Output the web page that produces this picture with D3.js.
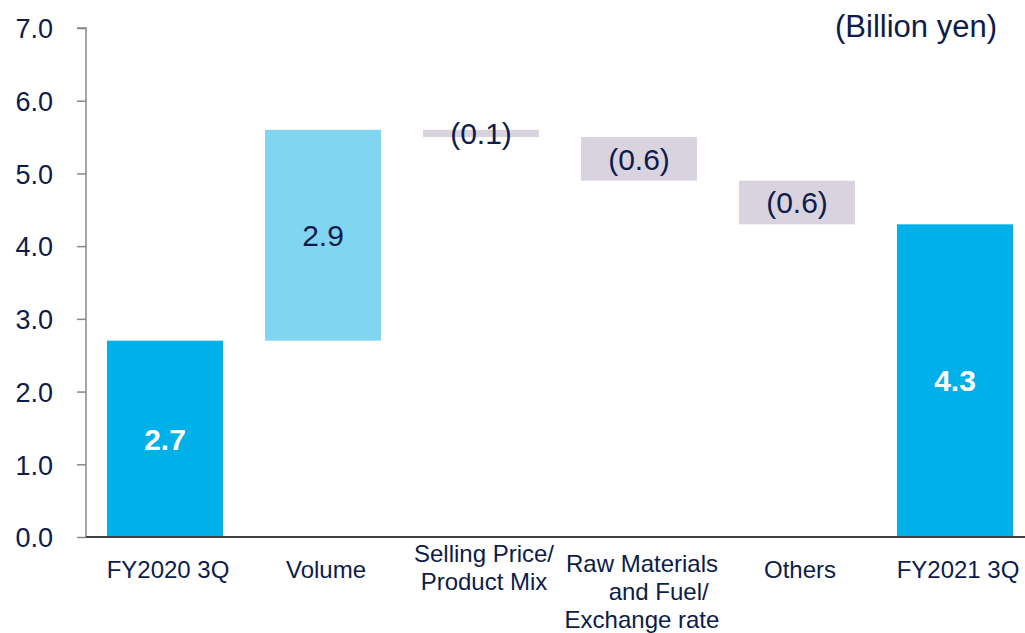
<!DOCTYPE html>
<html>
<head>
<meta charset="utf-8">
<script src="https://cdn.jsdelivr.net/npm/d3@7"></script>
<style>
  body { margin: 0; background: #fff; }
  text { font-family: "Liberation Sans", Arial, sans-serif; }
</style>
</head>
<body>
<div id="chart"></div>
<script>
// waterfall data (billion yen)
const categories = ["FY2020 3Q", "Volume", "Selling Price/Product Mix", "Raw Materials and Fuel/Exchange rate", "Others", "FY2021 3Q"];
const labelLines = [
  ["FY2020 3Q"],
  ["Volume"],
  ["Selling Price/", "Product Mix"],
  ["Raw Materials", "\u00a0\u00a0\u00a0\u00a0\u00a0and Fuel/", "Exchange rate"],
  ["Others"],
  ["FY2021 3Q"]
];
const kinds = ["total", "up", "down", "down", "down", "total"];
const values = [2.7, 2.9, -0.1, -0.6, -0.6, 4.3];
const valueLabels = ["2.7", "2.9", "(0.1)", "(0.6)", "(0.6)", "4.3"];
const yTicks = [0, 1, 2, 3, 4, 5, 6, 7];

const width = 1025, height = 633;
const margin = { top: 28, right: -9, bottom: 96, left: 86 };

const navy = "#0e1c4a";
const colors = { total: "#00b0e8", up: "#80d6f1", down: "#d9d3e0" };

// running base for each bar
let run = 0;
const bars = values.map((v, i) => {
  let y0, y1;
  if (kinds[i] === "total") {
    y0 = 0; y1 = v; run = v;
  } else {
    y0 = run; y1 = run + v; run = y1;
  }
  return { cat: categories[i], kind: kinds[i], lo: Math.min(y0, y1), hi: Math.max(y0, y1), label: valueLabels[i], lines: labelLines[i] };
});

const svg = d3.select("#chart").append("svg")
  .attr("width", width)
  .attr("height", height);

const x = d3.scaleBand()
  .domain(categories)
  .range([margin.left, width - margin.right])
  .paddingInner(0.266)
  .paddingOuter(0.133);

const y = d3.scaleLinear()
  .domain([0, 7])
  .range([height - margin.bottom, margin.top]);

// y axis
const yAxis = svg.append("g")
  .attr("transform", `translate(${margin.left},0)`)
  .call(d3.axisLeft(y).tickValues(yTicks).tickFormat(d3.format(".1f")).tickSize(9).tickPadding(24));
yAxis.select(".domain").attr("stroke", "#888").attr("stroke-width", 1.5).attr("d", `M-9,${y(7)}H0V${y(0)}`);
yAxis.selectAll(".tick line").attr("stroke", "#888").attr("stroke-width", 1.5);
yAxis.selectAll(".tick text")
  .attr("fill", navy)
  .style("font-size", "27px")
  .attr("dy", "0.36em");

// bars
svg.append("g")
  .selectAll("rect")
  .data(bars)
  .join("rect")
  .attr("x", d => x(d.cat))
  .attr("width", x.bandwidth())
  .attr("y", d => y(d.hi))
  .attr("height", d => y(d.lo) - y(d.hi))
  .attr("fill", d => colors[d.kind]);

// x axis line
svg.append("line")
  .attr("x1", margin.left)
  .attr("x2", width)
  .attr("y1", y(0))
  .attr("y2", y(0))
  .attr("stroke", "#404040")
  .attr("stroke-width", 2);

// value labels
svg.append("g")
  .selectAll("text")
  .data(bars)
  .join("text")
  .attr("x", d => x(d.cat) + x.bandwidth() / 2)
  .attr("y", d => y((d.lo + d.hi) / 2))
  .attr("dy", "0.36em")
  .attr("text-anchor", "middle")
  .attr("fill", d => d.kind === "total" ? "#fff" : navy)
  .style("font-weight", d => d.kind === "total" ? "bold" : "normal")
  .style("font-size", "30px")
  .text(d => d.label);

// category labels
const firstBaseline = n => n === 1 ? 578 : n === 2 ? 562 : 572;
const cats = svg.append("g")
  .selectAll("text")
  .data(bars)
  .join("text")
  .attr("text-anchor", "middle")
  .attr("fill", navy)
  .style("font-size", "24px")
  .attr("y", d => firstBaseline(d.lines.length));
cats.selectAll("tspan")
  .data(d => d.lines.map(l => ({ l, cx: x(d.cat) + x.bandwidth() / 2 + 3 })))
  .join("tspan")
  .attr("x", d => d.cx)
  .attr("dy", (d, i) => i === 0 ? 0 : 28)
  .text(d => d.l);

// unit label
svg.append("text")
  .attr("x", 997)
  .attr("y", 37)
  .attr("text-anchor", "end")
  .attr("fill", navy)
  .style("font-size", "31px")
  .text("(Billion yen)");
</script>
</body>
</html>
